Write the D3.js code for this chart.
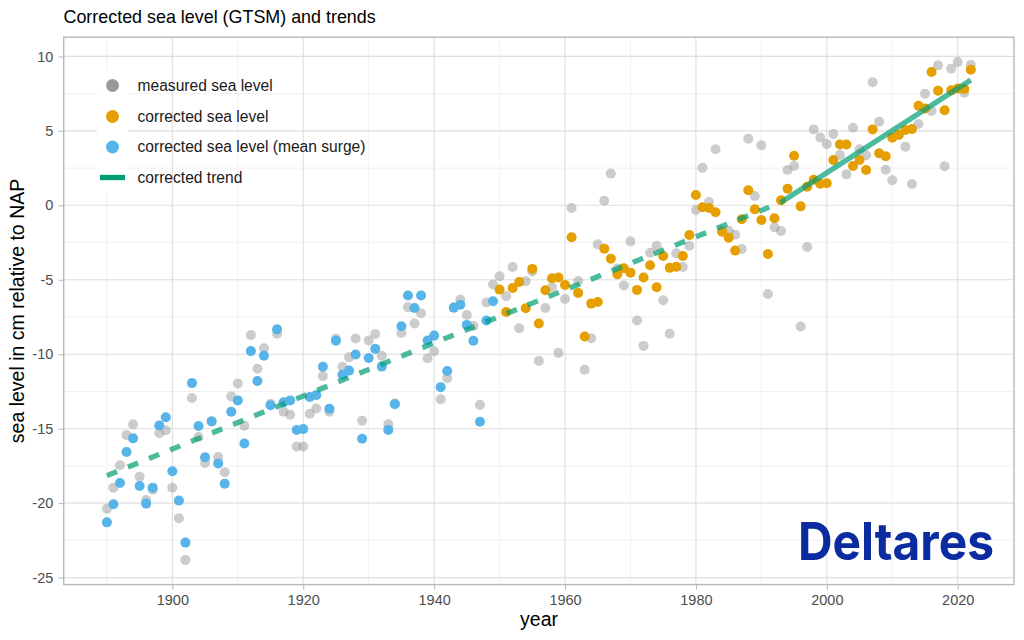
<!DOCTYPE html>
<html>
<head>
<meta charset="utf-8">
<script src="https://cdn.jsdelivr.net/npm/d3@7"></script>
<style>
  body { margin: 0; background: #fff; }
  text { font-family: "Liberation Sans", Arial, sans-serif; }
</style>
</head>
<body>
<div id="vis"></div>
<script>
// years 1890-2022
const years = [
  1890,1891,1892,1893,1894,1895,1896,1897,1898,1899,
  1900,1901,1902,1903,1904,1905,1906,1907,1908,1909,
  1910,1911,1912,1913,1914,1915,1916,1917,1918,1919,
  1920,1921,1922,1923,1924,1925,1926,1927,1928,1929,
  1930,1931,1932,1933,1934,1935,1936,1937,1938,1939,
  1940,1941,1942,1943,1944,1945,1946,1947,1948,1949,
  1950,1951,1952,1953,1954,1955,1956,1957,1958,1959,
  1960,1961,1962,1963,1964,1965,1966,1967,1968,1969,
  1970,1971,1972,1973,1974,1975,1976,1977,1978,1979,
  1980,1981,1982,1983,1984,1985,1986,1987,1988,1989,
  1990,1991,1992,1993,1994,1995,1996,1997,1998,1999,
  2000,2001,2002,2003,2004,2005,2006,2007,2008,2009,
  2010,2011,2012,2013,2014,2015,2016,2017,2018,2019,
  2020,2021,2022
];

const measured = [
  -20.37,-18.96,-17.46,-15.43,-14.71,-18.22,-19.79,-19.1,-15.31,-15.11,
  -18.96,-21.02,-23.81,-12.94,-15.56,-17.3,-14.5,-16.9,-17.93,-12.83,
  -11.96,-14.8,-8.71,-10.97,-9.6,-13.34,-8.62,-13.86,-14.06,-16.2,
  -16.2,-13.99,-13.64,-11.47,-13.86,-8.96,-10.84,-10.21,-8.94,-14.46,
  -9.08,-8.64,-10.11,-14.7,-13.3,-8.57,-6.85,-7.94,-7.25,-10.27,
  -9.8,-13.02,-11.61,-6.87,-6.33,-7.36,-8.1,-13.4,-6.53,-5.32,
  -4.77,-6.11,-4.14,-8.25,-5.1,-4.45,-10.45,-6.89,-5.48,-9.91,
  -6.29,-0.18,-5.08,-11.05,-8.93,-2.62,0.31,2.13,-4.25,-5.39,
  -2.42,-7.74,-9.44,-3.18,-2.71,-6.38,-8.63,-3.22,-4.14,-2.71,
  -0.31,2.53,0.22,3.76,-1.7,-1.7,-1.97,-2.93,4.47,0.63,
  4.03,-5.95,-1.48,-1.72,2.37,2.64,-8.14,-2.8,5.1,4.56,
  4.12,4.79,3.38,2.08,5.21,3.76,3.36,8.26,5.62,2.39,
  1.68,4.72,3.94,1.43,5.46,7.49,6.33,9.4,2.62,9.17,
  9.62,7.56,9.44
];

// 1890-1949
const correctedSurge = [
  -21.29,-20.08,-18.65,-16.57,-15.65,-18.85,-20.03,-18.96,-14.78,-14.24,
  -17.86,-19.83,-22.65,-11.94,-14.82,-16.92,-14.51,-17.33,-18.69,-13.86,
  -13.1,-16.0,-9.79,-11.8,-10.1,-13.43,-8.33,-13.23,-13.1,-15.09,
  -15.02,-12.87,-12.74,-10.84,-13.66,-9.09,-11.38,-11.1,-10.02,-15.67,
  -10.25,-9.64,-10.83,-15.08,-13.36,-8.12,-6.06,-6.89,-6.06,-9.08,
  -8.75,-12.21,-11.12,-6.87,-6.67,-8.03,-9.1,-14.54,-7.74,-6.44
];

// 1950-2022
const corrected = [
  -5.66,-7.16,-5.55,-5.15,-6.91,-4.27,-7.94,-5.7,-4.9,-4.85,
  -5.35,-2.15,-5.88,-8.81,-6.6,-6.49,-2.91,-3.58,-4.63,-4.23,
  -4.52,-5.68,-4.85,-4.03,-5.5,-3.4,-4.2,-4.12,-3.4,-1.99,
  0.69,-0.13,-0.18,-0.47,-1.77,-2.17,-3.04,-0.94,1.01,-0.27,
  -0.98,-3.27,-0.87,0.34,1.12,3.33,-0.07,1.25,1.72,1.45,
  1.48,3.04,4.09,4.09,2.64,3.04,2.37,5.1,3.49,3.29,
  4.54,4.74,5.06,5.12,6.69,6.51,8.95,7.7,6.38,7.72,
  7.85,7.81,9.1
];

const trendOldYears = [1890, 1993];
const trendOld = [-18.15, 0.2];
const trendNewYears = [1993, 2022];
const trendNew = [0.2, 8.41];

const xMajor = [1900, 1920, 1940, 1960, 1980, 2000, 2020];
const xMinor = [1890, 1910, 1930, 1950, 1970, 1990, 2010];
const yMajor = [-25, -20, -15, -10, -5, 0, 5, 10];
const yMinor = [-22.5, -17.5, -12.5, -7.5, -2.5, 2.5, 7.5];

const legendLabels = ["measured sea level", "corrected sea level", "corrected sea level (mean surge)", "corrected trend"];

const colMeasured = "#999999", colCorrected = "#E69F00", colSurge = "#56B4E9", colTrend = "#009E73";

const width = 1024, height = 640;
const margin = {top: 37.2, right: 10, bottom: 55.4, left: 63.7};

const svg = d3.select("#vis").append("svg")
    .attr("width", width)
    .attr("height", height)
    .style("display", "block");

const x = d3.scaleLinear().domain([1883.4, 2028.6]).range([margin.left, width - margin.right]);
const y = d3.scaleLinear().domain([-25.47, 11.29]).range([height - margin.bottom, margin.top]);

// grid
const grid = svg.append("g");
grid.selectAll(".vminor").data(xMinor).enter().append("line")
    .attr("x1", d => x(d)).attr("x2", d => x(d))
    .attr("y1", margin.top).attr("y2", height - margin.bottom)
    .attr("stroke", "#ededed").attr("stroke-width", 0.8);
grid.selectAll(".hminor").data(yMinor).enter().append("line")
    .attr("x1", margin.left).attr("x2", width - margin.right)
    .attr("y1", d => y(d)).attr("y2", d => y(d))
    .attr("stroke", "#ededed").attr("stroke-width", 0.8);
grid.selectAll(".vmajor").data(xMajor).enter().append("line")
    .attr("x1", d => x(d)).attr("x2", d => x(d))
    .attr("y1", margin.top).attr("y2", height - margin.bottom)
    .attr("stroke", "#dedede").attr("stroke-width", 1.1);
grid.selectAll(".hmajor").data(yMajor).enter().append("line")
    .attr("x1", margin.left).attr("x2", width - margin.right)
    .attr("y1", d => y(d)).attr("y2", d => y(d))
    .attr("stroke", "#dedede").attr("stroke-width", 1.1);

// points
function addPoints(xs, ys, color, r, opacity) {
  svg.append("g").selectAll("circle")
      .data(ys)
    .enter().append("circle")
      .attr("cx", (d, i) => x(xs[i]))
      .attr("cy", d => y(d))
      .attr("r", r)
      .attr("fill", color)
      .attr("fill-opacity", opacity);
}
addPoints(years, measured, colMeasured, 5, 0.5);
addPoints(years.slice(0, 60), correctedSurge, colSurge, 5, 1);
addPoints(years.slice(60), corrected, colCorrected, 5, 1);

// trends
const line = d3.line().x(d => x(d[0])).y(d => y(d[1]));
svg.append("path")
    .attr("d", line(d3.zip(trendOldYears, trendOld)))
    .attr("fill", "none").attr("stroke", colTrend).attr("stroke-opacity", 0.7)
    .attr("stroke-width", 5.3).attr("stroke-dasharray", "11,11.7");
svg.append("path")
    .attr("d", line(d3.zip(trendNewYears, trendNew)))
    .attr("fill", "none").attr("stroke", colTrend).attr("stroke-opacity", 0.7)
    .attr("stroke-width", 5.3);

// legend
const legendY = [85.5, 116.5, 147, 177.5];
svg.append("rect").attr("x", 97).attr("y", 70).attr("width", 31).attr("height", 123).attr("fill", "#fff");
const legendRow = svg.append("g").selectAll("g")
    .data(legendLabels)
  .enter().append("g")
    .attr("transform", (d, i) => "translate(0," + legendY[i] + ")");
legendRow.filter((d, i) => i < 3).append("circle")
    .attr("cx", 112.5).attr("r", 6.5)
    .attr("fill", (d, i) => [colMeasured, colCorrected, colSurge][i]);
legendRow.filter((d, i) => i === 3).append("line")
    .attr("x1", 100).attr("x2", 125)
    .attr("stroke", colTrend).attr("stroke-width", 5.3);
legendRow.append("text")
    .attr("x", 137.5).attr("dy", "0.35em")
    .attr("font-size", 15.6).attr("fill", "#1a1a1a")
    .text(d => d);

// logo
svg.append("text")
    .attr("x", 798).attr("y", 560)
    .style("font-family", "Inter, sans-serif").style("font-weight", 700)
    .attr("font-size", 52).attr("fill", "#0b2ca0")
    .attr("textLength", 196).attr("lengthAdjust", "spacingAndGlyphs")
    .text("Deltares");

// panel border
svg.append("rect")
    .attr("x", margin.left).attr("y", margin.top)
    .attr("width", width - margin.left - margin.right)
    .attr("height", height - margin.top - margin.bottom)
    .attr("fill", "none").attr("stroke", "#b8b8b8").attr("stroke-width", 1.4);

// axes
const xAxis = svg.append("g")
    .attr("transform", "translate(0," + (height - margin.bottom) + ")")
    .call(d3.axisBottom(x).tickValues(xMajor).tickFormat(d3.format("d")).tickSize(5).tickPadding(5));
const yAxis = svg.append("g")
    .attr("transform", "translate(" + margin.left + ",0)")
    .call(d3.axisLeft(y).tickValues(yMajor).tickFormat(d => String(d)).tickSize(5).tickPadding(5.4));
[xAxis, yAxis].forEach(a => {
  a.select(".domain").remove();
  a.selectAll("line").attr("stroke", "#b3b3b3");
  a.selectAll("text").attr("fill", "#4d4d4d").attr("font-size", 14.5).style("font-family", '"Liberation Sans", Arial, sans-serif');
});

// titles
svg.append("text").attr("x", 63.5).attr("y", 23.3).attr("font-size", 17.9).attr("fill", "#000")
    .text("Corrected sea level (GTSM) and trends");
svg.append("text").attr("x", 539).attr("y", 626).attr("text-anchor", "middle").attr("font-size", 19.5).attr("fill", "#000")
    .text("year");
svg.append("text")
    .attr("transform", "translate(23.7,311) rotate(-90)")
    .attr("text-anchor", "middle").attr("font-size", 19.5).attr("fill", "#000")
    .text("sea level in cm relative to NAP");
</script>
</body>
</html>
